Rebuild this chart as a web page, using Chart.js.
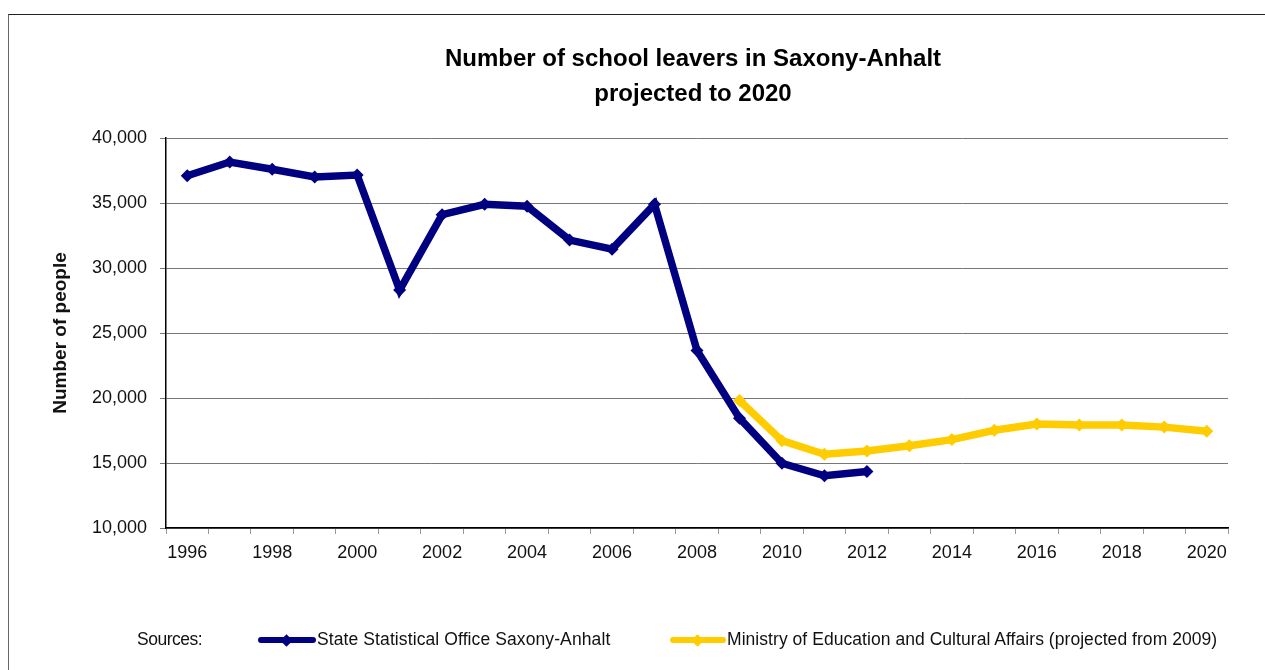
<!DOCTYPE html>
<html>
<head>
<meta charset="utf-8">
<script src="https://cdn.jsdelivr.net/npm/chart.js@4/dist/chart.umd.min.js"></script>
<style>
  html, body { margin: 0; padding: 0; background: #fff; }
  #wrap { position: relative; width: 1265px; height: 670px; overflow: hidden; }
  #frame { position: absolute; left: 8px; top: 14px; width: 1400px; height: 800px;
           border-left: 1px solid #666; border-top: 1px solid #222; }
  canvas { position: absolute; left: 0; top: 0; }
  .lg { position: absolute; top: 629px; font-family: "Liberation Sans", Arial, sans-serif;
        font-size: 17.5px; color: #111; white-space: nowrap; line-height: 20px; }
  .sw { position: absolute; top: 637px; height: 6px; border-radius: 3px; }
  .dm { position: absolute; width: 9px; height: 9px; transform: rotate(45deg); top: 635.5px; }
</style>
</head>
<body>
<div id="wrap">
  <div id="frame"></div>
  <canvas id="c" width="1265" height="670"></canvas>
  <div class="lg" style="left:137px;letter-spacing:-0.5px">Sources:</div>
  <div class="sw" style="left:258px;width:58px;background:#000080"></div>
  <div class="dm" style="left:282px;background:#000080"></div>
  <div class="lg" id="lg1" style="left:317px;letter-spacing:0.1px">State Statistical Office Saxony-Anhalt</div>
  <div class="sw" style="left:670px;width:56px;background:#FFCC00"></div>
  <div class="dm" style="left:693px;background:#FFCC00"></div>
  <div class="lg" id="lg2" style="left:727px;letter-spacing:0.05px">Ministry of Education and Cultural Affairs (projected from 2009)</div>
</div>
<script>
const years = ['1996','1997','1998','1999','2000','2001','2002','2003','2004','2005','2006','2007','2008',
               '2009','2010','2011','2012','2013','2014','2015','2016','2017','2018','2019','2020'];
const statisticalOffice = [37100, 38150, 37600, 37000, 37150, 28300, 34100, 34900, 34750, 32150, 31450, 34900,
                           23650, 18450, 14980, 14020, 14350, null, null, null, null, null, null, null, null];
const ministryProjection = [null, null, null, null, null, null, null, null, null, null, null, null, null,
                            19800, 16720, 15670, 15920, 16330, 16800, 17520, 18000, 17920, 17920, 17760, 17450];
const yTicks = [10000, 15000, 20000, 25000, 30000, 35000, 40000];
const seriesNames = ['State Statistical Office Saxony-Anhalt', 'Ministry of Education and Cultural Affairs (projected from 2009)'];
const titleLines = ['Number of school leavers in Saxony-Anhalt', 'projected to 2020'];

const centerTitleOnPlot = {
  id: 'centerTitleOnPlot',
  afterLayout(chart) {
    const t = chart.titleBlock;
    if (t) {
      t.left = chart.chartArea.left;
      t.right = chart.chartArea.right - 8;
      t.width = t.right - t.left;
    }
  }
};

new Chart(document.getElementById('c'), {
  type: 'line',
  data: {
    labels: years,
    datasets: [
      { label: seriesNames[0], data: statisticalOffice, borderColor: '#000080', backgroundColor: '#000080',
        borderWidth: 7.5, pointStyle: 'rectRot', pointRadius: 6.5, pointBorderWidth: 0, pointBackgroundColor: '#000080',
        tension: 0, order: 1, spanGaps: false },
      { label: seriesNames[1], data: ministryProjection, borderColor: '#FFCC00', backgroundColor: '#FFCC00',
        borderWidth: 7.5, pointStyle: 'rectRot', pointRadius: 6.5, pointBorderWidth: 0, pointBackgroundColor: '#FFCC00',
        tension: 0, order: 0, spanGaps: false }
    ]
  },
  plugins: [centerTitleOnPlot],
  options: {
    responsive: false,
    animation: false,
    layout: { padding: { left: 45, right: 37, top: 20, bottom: 102 } },
    plugins: {
      legend: { display: false },
      tooltip: { enabled: false },
      title: {
        display: true, text: titleLines, color: '#000',
        font: { family: '"Liberation Sans", Arial, sans-serif', size: 24, weight: 'bold', lineHeight: 1.45 },
        padding: { top: 22, bottom: 26.4 }
      }
    },
    scales: {
      x: {
        type: 'category', offset: true,
        grid: { offset: true, drawOnChartArea: false, drawTicks: true, tickLength: 6, color: '#999' },
        border: { display: true, color: '#000', width: 1.5 },
        ticks: {
          color: '#111', padding: 8, maxRotation: 0, autoSkip: false,
          font: { family: '"Liberation Sans", Arial, sans-serif', size: 18 },
          callback: function(v, i) { return i % 2 === 0 ? years[i] : ''; }
        },
        afterFit: function(s) { s.height = 40; }
      },
      y: {
        min: 10000, max: 40000,
        afterBuildTicks: function(s) { s.ticks = yTicks.map(v => ({ value: v })); },
        grid: { color: '#777', lineWidth: 1, tickLength: 6, tickColor: '#777' },
        border: { display: true, color: '#000', width: 1.5 },
        ticks: {
          color: '#111', padding: 13,
          font: { family: '"Liberation Sans", Arial, sans-serif', size: 18 },
          callback: function(v) { return v.toLocaleString('en-US'); }
        },
        title: {
          display: true, text: 'Number of people', color: '#111',
          font: { family: '"Liberation Sans", Arial, sans-serif', size: 19, weight: 'bold' },
          padding: { top: 4, bottom: 4 }
        },
        afterFit: function(s) { s.width = 121; }
      }
    }
  }
});
</script>
</body>
</html>
